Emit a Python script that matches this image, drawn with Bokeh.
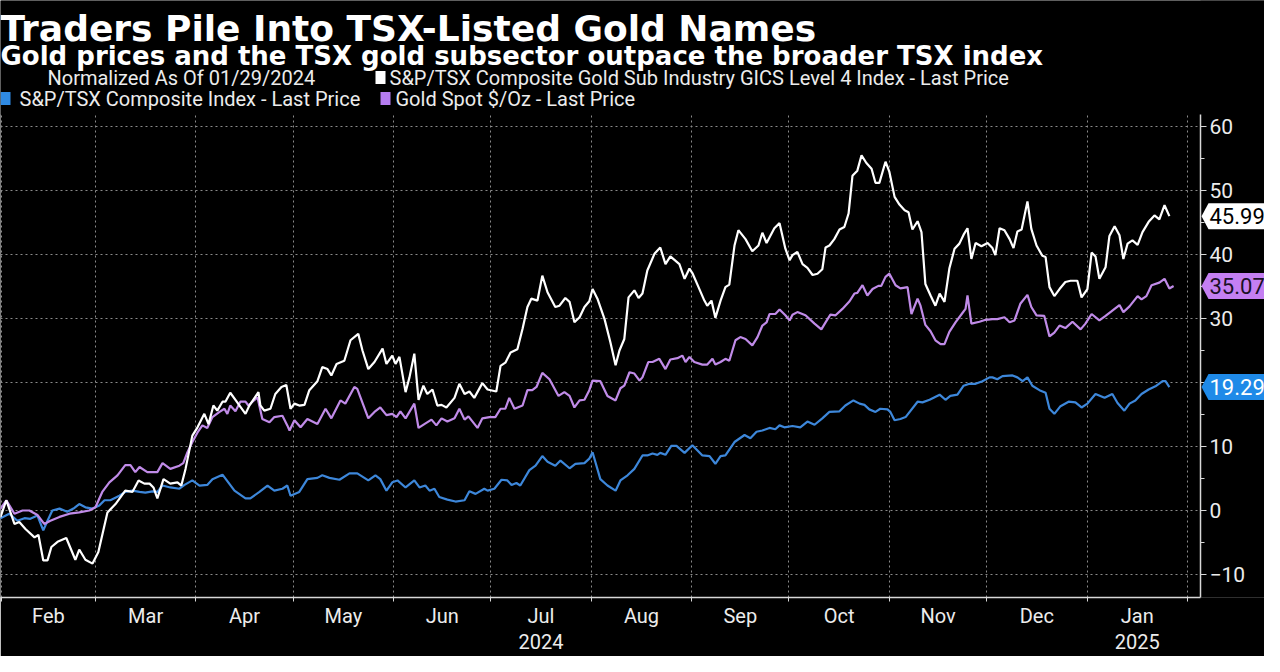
import pandas as pd
from bokeh.plotting import figure
from bokeh.models import (ColumnDataSource, Range1d, LinearAxis, FixedTicker, Grid,
                          Label, PolyAnnotation, BoxAnnotation)
from bokeh.embed import file_html
from bokeh.resources import INLINE

# ---------------- data (days since the normalization date, % change) ----------------
START_DATE = "2024-01-29"

gold_sub_days = [
    0, 2.7, 4.5, 7.0, 8.5, 10.4, 13.2, 14.4, 15.9, 17.2,
    18.4, 20.3, 23.0, 25.8, 27.0, 28.9, 31.1, 32.9, 35.7, 38.2,
    41.2, 43.4, 45.3, 47.1, 48.7, 49.9, 51.1, 53.0, 55.1, 57.3,
    58.5, 59.8, 61.9, 63.5, 65.6, 66.9, 68.4, 69.6, 71.2, 72.1,
    73.6, 75.2, 78.3, 79.5, 82.3, 82.9, 84.1, 86.0, 87.5, 89.4,
    90.9, 92.2, 93.4, 94.9, 96.5, 98.0, 100.5, 102.0, 103.6, 104.8,
    106.4, 108.8, 110.7, 113.1, 114.4, 116.2, 118.1, 120.6, 121.8, 123.6,
    124.6, 125.8, 127.7, 128.9, 130.4, 131.7, 133.2, 134.4, 136.0, 137.5,
    138.8, 140.3, 142.8, 144.3, 145.9, 147.4, 148.9, 151.4, 153.0, 155.7,
    157.0, 158.5, 160.1, 162.2, 163.8, 165.3, 166.5, 168.4, 169.9, 171.5,
    173.9, 175.2, 177.0, 178.3, 179.8, 181.4, 182.9, 184.4, 185.4, 186.9,
    189.1, 190.9, 192.5, 193.7, 195.2, 196.5, 198.3, 199.6, 200.8, 202.3,
    204.5, 206.3, 207.9, 209.4, 212.2, 213.8, 215.3, 216.2, 218.1, 219.9,
    220.8, 222.1, 223.3, 224.9, 226.4, 227.6, 229.2, 230.4, 232.6, 234.7,
    236.6, 237.8, 239.1, 241.5, 243.1, 244.9, 246.2, 247.1, 248.6, 250.2,
    251.7, 253.3, 254.8, 256.3, 257.3, 258.5, 260.0, 261.6, 263.1, 264.4,
    265.6, 267.1, 268.4, 269.9, 271.5, 272.7, 273.9, 275.8, 277.0, 278.6,
    280.1, 281.7, 282.9, 284.1, 285.7, 286.9, 288.1, 289.7, 291.2, 292.5,
    294.0, 295.5, 297.1, 298.6, 299.9, 301.1, 302.3, 303.6, 305.4, 307.3,
    308.8, 309.7, 311.0, 312.5, 314.1, 315.3, 316.5, 317.8, 319.6, 320.8,
    322.4, 324.2, 325.2, 326.4, 327.9, 329.5, 331.3, 332.9, 335.0, 336.3,
    338.1, 339.4, 340.6, 341.8, 343.7, 344.9, 346.5, 348.0, 349.2, 350.5,
    352.0, 353.6, 355.1, 357.0, 358.8, 360.3, 361.9, 363.4,
]
gold_sub_vals = [
    0, -1.0, 1.6, -2.1, -1.8, -2.9, -4.2, -3.8, -7.8, -7.8,
    -5.7, -4.9, -4.3, -7.7, -6.1, -7.7, -8.3, -6.5, -0.3, 1.0,
    3.1, 2.9, 4.7, 4.2, 4.2, 3.6, 1.9, 4.9, 4.2, 4.4,
    3.9, 6.5, 11.7, 13.0, 15.1, 13.5, 16.4, 15.6, 17.0, 17.0,
    18.4, 17.3, 15.1, 16.4, 18.5, 16.4, 15.6, 15.9, 18.2, 19.3,
    19.6, 15.9, 16.7, 16.4, 16.5, 18.8, 20.2, 22.4, 22.1, 21.1,
    22.9, 23.4, 26.6, 27.6, 25.0, 22.1, 23.2, 25.3, 22.9, 24.2,
    22.9, 24.0, 18.5, 20.8, 24.5, 17.3, 19.5, 18.2, 18.9, 16.4,
    16.5, 16.1, 17.6, 19.8, 18.2, 18.6, 17.6, 19.9, 18.9, 18.6,
    22.6, 23.1, 24.7, 25.2, 28.4, 31.8, 33.1, 32.8, 36.7, 34.1,
    31.8, 32.0, 33.2, 32.6, 29.4, 30.2, 31.8, 32.7, 34.6, 33.1,
    29.9, 26.3, 22.7, 25.0, 26.8, 33.3, 34.4, 33.2, 33.9, 37.5,
    40.1, 41.1, 38.5, 39.7, 38.5, 36.2, 37.8, 37.1, 34.9, 32.8,
    32.0, 32.8, 30.1, 32.8, 34.9, 35.3, 41.4, 43.8, 42.4, 40.5,
    41.4, 43.4, 41.8, 44.1, 44.9, 40.9, 39.1, 39.9, 40.4, 38.5,
    37.9, 36.8, 37.0, 37.7, 41.1, 41.4, 42.4, 43.9, 44.3, 46.4,
    52.3, 53.1, 55.5, 54.3, 53.4, 51.2, 51.2, 54.5, 52.9, 49.0,
    47.8, 46.9, 46.6, 43.9, 45.2, 43.5, 35.4, 33.6, 32.0, 33.9,
    32.6, 37.8, 40.9, 41.7, 43.1, 44.1, 39.3, 41.8, 41.3, 41.8,
    41.0, 39.9, 44.1, 43.8, 42.4, 41.0, 43.6, 43.9, 48.3, 44.0,
    41.4, 39.8, 39.6, 34.9, 33.5, 34.6, 35.7, 35.9, 35.9, 33.3,
    34.6, 40.3, 39.7, 36.2, 38.0, 42.9, 44.4, 43.0, 39.3, 41.7,
    42.2, 41.5, 43.5, 45.1, 46.1, 45.5, 47.7, 45.99,
]

gold_spot_days = [
    0, 2.7, 4.5, 7.0, 9.5, 11.6, 14.1, 16.2, 18.1, 20.9,
    24.0, 27.0, 30.1, 32.0, 34.1, 36.3, 38.8, 41.2, 42.8, 44.3,
    45.6, 48.0, 51.1, 52.7, 55.1, 57.9, 59.1, 60.4, 61.9, 63.5,
    65.0, 66.5, 68.1, 70.3, 71.8, 72.7, 73.6, 75.2, 76.7, 78.3,
    79.2, 82.0, 83.5, 85.7, 87.2, 89.7, 91.2, 91.9, 93.4, 95.3,
    97.4, 100.5, 103.0, 104.8, 107.6, 109.1, 111.9, 112.8, 116.2, 118.1,
    119.9, 121.8, 123.6, 124.9, 126.1, 127.7, 130.4, 131.7, 133.5, 135.7,
    137.2, 138.8, 140.6, 142.8, 144.3, 145.9, 147.1, 149.9, 151.4, 153.6,
    155.4, 157.0, 158.5, 159.7, 161.3, 163.8, 165.3, 166.8, 168.1, 169.9,
    172.1, 174.9, 176.7, 178.3, 179.8, 181.4, 182.9, 184.4, 185.4, 187.8,
    190.0, 192.5, 194.0, 195.2, 196.8, 198.3, 199.9, 200.8, 202.6, 203.9,
    206.0, 207.9, 209.4, 211.6, 213.1, 214.1, 215.3, 216.8, 219.3, 220.8,
    222.4, 223.3, 224.9, 226.4, 227.6, 229.5, 231.0, 232.6, 234.7, 236.3,
    237.8, 239.1, 240.0, 241.8, 243.1, 244.9, 246.2, 247.1, 248.6, 251.1,
    253.9, 256.0, 257.3, 258.8, 260.4, 262.5, 264.7, 266.2, 267.1, 268.7,
    270.2, 271.8, 273.6, 274.5, 275.8, 277.0, 278.9, 280.4, 282.6, 283.8,
    285.7, 286.6, 288.1, 289.7, 291.2, 292.8, 294.0, 295.5, 297.4, 299.6,
    300.5, 301.1, 302.3, 304.8, 306.7, 308.8, 310.3, 312.5, 314.1, 315.6,
    317.4, 319.6, 320.8, 322.4, 324.8, 326.4, 327.9, 329.5, 331.3, 333.5,
    336.0, 337.5, 339.4, 341.8, 343.7, 345.5, 348.0, 349.2, 351.1, 353.6,
    354.8, 356.3, 357.9, 360.3, 361.9, 363.4, 364.7,
]
gold_spot_vals = [
    0, 0.3, 1.6, -0.5, 0, 0, -0.7, -2.1, -1.6, -1.0,
    -0.5, -0.3, 0, 0.5, 2.9, 4.4, 5.5, 7.1, 7.1, 6.0,
    6.8, 6.0, 6.0, 7.4, 6.5, 7.0, 7.4, 9.1, 10.7, 12.2,
    13.3, 12.9, 14.6, 15.4, 15.9, 15.1, 16.4, 15.5, 17.0, 17.0,
    16.4, 17.7, 14.3, 13.8, 14.6, 14.8, 13.3, 12.5, 14.1, 13.0,
    14.3, 13.5, 15.9, 14.4, 17.2, 16.7, 19.3, 19.0, 14.4, 15.4,
    16.1, 14.9, 15.1, 14.6, 15.5, 14.4, 16.7, 12.9, 13.5, 14.2,
    13.3, 14.4, 13.9, 14.4, 15.9, 14.2, 14.7, 12.9, 14.4, 14.6,
    14.6, 15.9, 15.9, 17.6, 15.9, 16.4, 18.8, 18.8, 19.3, 21.5,
    20.5, 17.9, 18.5, 17.9, 16.1, 17.2, 17.3, 18.8, 20.3, 20.2,
    17.9, 17.2, 19.1, 19.5, 21.6, 21.4, 20.3, 20.8, 23.2, 23.2,
    23.7, 22.1, 23.6, 23.8, 24.2, 23.2, 24.0, 23.2, 22.8, 22.8,
    23.7, 22.8, 23.2, 23.7, 23.4, 26.6, 27.1, 26.8, 25.8, 27.1,
    28.9, 29.4, 30.7, 30.7, 31.4, 30.5, 29.7, 30.6, 31.0, 30.5,
    29.2, 28.3, 29.4, 30.6, 30.5, 31.5, 32.7, 33.9, 34.0, 35.2,
    33.6, 34.6, 35.1, 35.1, 36.5, 37.0, 35.2, 34.7, 34.9, 30.7,
    33.1, 32.0, 29.0, 28.0, 26.6, 26.0, 26.0, 27.9, 29.4, 30.9,
    31.5, 33.6, 29.2, 29.5, 29.8, 29.9, 29.9, 30.2, 29.4, 29.7,
    32.3, 33.7, 31.8, 30.5, 30.4, 27.2, 27.8, 28.9, 28.5, 29.5,
    28.3, 29.2, 30.7, 29.7, 30.4, 31.1, 32.1, 31.0, 31.9, 33.5,
    33.0, 33.5, 35.2, 35.6, 36.2, 34.7, 35.07,
]

tsx_days = [
    0, 2.7, 5.4, 7.9, 10.1, 11.9, 14.1, 15.9, 17.2, 18.7,
    20.9, 23.3, 25.5, 27.0, 28.9, 31.1, 33.2, 34.8, 36.6, 39.4,
    41.2, 43.4, 45.6, 47.4, 49.6, 51.1, 52.7, 55.1, 57.9, 59.5,
    61.9, 64.1, 66.5, 68.1, 71.2, 74.9, 78.3, 79.8, 82.6, 85.1,
    87.2, 89.7, 91.2, 92.2, 94.9, 97.4, 100.5, 102.0, 104.2, 107.3,
    110.4, 112.8, 116.2, 118.4, 119.9, 121.8, 123.6, 125.2, 127.7, 130.4,
    132.0, 133.8, 135.1, 136.6, 138.1, 140.6, 143.1, 145.9, 147.4, 149.3,
    152.0, 153.0, 155.1, 157.3, 159.1, 160.4, 161.9, 163.1, 165.9, 167.8,
    169.9, 171.5, 173.9, 175.5, 178.3, 180.1, 182.9, 184.4, 185.4, 187.8,
    190.0, 192.5, 194.0, 196.2, 198.3, 200.8, 202.3, 203.9, 205.4, 206.3,
    207.9, 209.7, 211.3, 213.8, 216.2, 219.3, 221.5, 223.3, 224.9, 226.4,
    229.2, 232.3, 234.1, 236.0, 237.8, 240.0, 241.8, 243.1, 244.6, 247.1,
    249.5, 251.7, 253.9, 256.3, 258.5, 261.6, 263.4, 265.9, 267.8, 269.3,
    270.8, 272.7, 274.2, 276.4, 277.3, 278.6, 280.4, 282.0, 285.7, 287.2,
    289.4, 292.5, 294.3, 295.8, 298.0, 299.9, 301.7, 303.6, 305.7, 307.9,
    308.8, 310.3, 311.9, 315.0, 316.5, 318.1, 319.6, 321.1, 323.3, 325.2,
    326.4, 327.9, 329.8, 332.3, 334.4, 336.3, 338.1, 340.6, 343.4, 345.8,
    347.4, 349.5, 351.1, 352.9, 354.8, 357.0, 359.1, 361.3, 362.2, 363.4,
]
tsx_vals = [
    0, -1.2, -0.5, -1.6, -1.2, -1.3, -0.8, -3.1, -1.6, 0,
    0.3, -0.2, 0.4, 1.0, 0.5, 0.3, 0.8, 1.6, 1.6, 2.3,
    2.9, 3.1, 2.9, 2.8, 3.0, 2.9, 3.9, 3.6, 3.4, 4.0,
    4.7, 3.9, 4.0, 4.9, 5.6, 3.1, 1.9, 1.9, 2.9, 3.9,
    3.1, 3.4, 3.9, 2.3, 2.9, 4.9, 5.1, 5.5, 5.1, 4.8,
    5.8, 5.8, 4.7, 5.5, 4.9, 3.1, 4.4, 4.7, 3.6, 4.7,
    3.6, 3.9, 3.1, 3.4, 2.1, 1.7, 1.4, 1.6, 3.0, 2.6,
    3.4, 3.1, 3.4, 4.8, 4.7, 4.0, 4.3, 3.9, 6.3, 7.0,
    8.5, 7.6, 7.0, 7.8, 6.6, 7.3, 7.4, 8.1, 9.1, 4.9,
    3.9, 3.1, 4.7, 5.5, 6.5, 8.6, 8.6, 8.9, 8.7, 9.0,
    8.7, 10.1, 10.1, 9.0, 10.2, 8.6, 8.5, 7.3, 8.5, 8.6,
    10.7, 11.8, 11.3, 12.3, 12.5, 12.9, 12.7, 13.3, 13.0, 13.2,
    13.0, 13.9, 13.4, 14.4, 15.4, 15.5, 16.4, 17.2, 16.7, 16.5,
    15.8, 15.4, 15.9, 15.8, 15.4, 14.1, 14.3, 14.6, 17.0, 16.9,
    17.3, 18.1, 17.3, 17.9, 18.1, 19.5, 19.8, 19.8, 20.2, 20.8,
    20.8, 20.5, 21.0, 21.1, 20.8, 20.2, 20.8, 19.5, 18.8, 18.4,
    15.9, 15.1, 16.3, 17.0, 16.9, 16.1, 16.7, 18.2, 17.6, 18.2,
    16.8, 15.6, 16.7, 17.2, 18.2, 18.9, 19.4, 20.2, 20.2, 19.29,
]

title_text = "Traders Pile Into TSX-Listed Gold Names"
subtitle_text = "Gold prices and the TSX gold subsector outpace the broader TSX index"
norm_text = "Normalized As Of 01/29/2024"
name_gold_sub = "S&P/TSX Composite Gold Sub Industry GICS Level 4 Index - Last Price"
name_tsx = "S&P/TSX Composite Index - Last Price"
name_gold_spot = "Gold Spot $/Oz - Last Price"
month_names = ["Feb", "Mar", "Apr", "May", "Jun", "Jul", "Aug", "Sep", "Oct", "Nov", "Dec", "Jan"]
year_names = {5: "2024", 11: "2025"}   # month index -> year written under it
y_ticks = [-10, 0, 10, 20, 30, 40, 50, 60]

# ---------------- styling ----------------
C_WHITE = "#ffffff"
C_BLUE = "#3d87da"
C_PURPLE = "#c08be8"
C_BLUE_KEY = "#2f8ae3"
C_PURPLE_KEY = "#b57cf0"
C_BLUE_TAG = "#1f8ae8"
C_PURPLE_TAG = "#c47ff2"
C_TEXT = "#ececec"
C_GRID = "#8a8a8a"
C_AXIS = "#d8d8d8"
FONT = "Roboto"

W, H = 1264, 656
B_BOTTOM = 59
FRAME_H = H - B_BOTTOM
PX_PER_DAY = 3.2406
PX_PER_UNIT = 6.4
AXIS_PX = 1200
ZERO_PAGE_Y = 518                                   # page y of the 0 line
Y_LO = (ZERO_PAGE_Y - (FRAME_H + 8)) / PX_PER_UNIT  # value at the frame bottom
Y_HI = 61.875                                       # top of the chart area proper
Y_TOP = Y_LO + FRAME_H / PX_PER_UNIT                # frame also holds the header

base = pd.Timestamp(START_DATE)


def to_dates(days):
    return (base + pd.to_timedelta(days, unit="D")).values


def ms(ts):
    return ts.value / 1e6


def vy(page_y):
    # data value that sits at a given page y
    return (ZERO_PAGE_Y - page_y) / PX_PER_UNIT


x_start = base + pd.Timedelta(days=2.7)
axis_date = x_start + pd.Timedelta(days=AXIS_PX / PX_PER_DAY)
x_end = x_start + pd.Timedelta(days=W / PX_PER_DAY)
MS_PER_PX = 86400000.0 / PX_PER_DAY

p = figure(width=W, height=H,
           x_range=Range1d(x_start, x_end),
           y_range=Range1d(Y_LO, Y_TOP),
           x_axis_type=None, y_axis_type=None, title=None,
           output_backend="svg", toolbar_location=None,
           min_border_left=0, min_border_right=0,
           min_border_top=0, min_border_bottom=B_BOTTOM,
           background_fill_color="#000000", border_fill_color="#000000",
           outline_line_color=None)

month_starts = pd.date_range("2024-02-01", periods=13, freq="MS")
start_ticks = [ms(t) for t in month_starts]
mid_ticks = [ms(a + (b - a) / 2) for a, b in zip(month_starts[:-1], month_starts[1:])]

# grids
p.add_layout(Grid(dimension=0, ticker=FixedTicker(ticks=start_ticks),
                  grid_line_color=C_GRID, grid_line_dash="2 3", grid_line_width=1))
p.add_layout(Grid(dimension=1, ticker=FixedTicker(ticks=y_ticks),
                  grid_line_color=C_GRID, grid_line_dash="2 3", grid_line_width=1))
# black masks: header area and strip right of the value axis
p.add_layout(BoxAnnotation(bottom=Y_HI, fill_color="#000000", fill_alpha=1.0,
                           line_color=None, level="underlay"))
p.add_layout(BoxAnnotation(left=ms(axis_date), fill_color="#000000", fill_alpha=1.0,
                           line_color=None, level="underlay"))

# lines
for days, vals, col in [(tsx_days, tsx_vals, C_BLUE),
                        (gold_spot_days, gold_spot_vals, C_PURPLE),
                        (gold_sub_days, gold_sub_vals, C_WHITE)]:
    n = min(len(days), len(vals))
    src = ColumnDataSource(dict(x=to_dates(days[:n]), y=vals[:n]))
    p.line(x="x", y="y", source=src, line_color=col, line_width=2.2)

# month axis, with the year written under Jul and Jan
month_labels = [m + ("\n" + year_names[i] if i in year_names else "")
                for i, m in enumerate(month_names)]
xaxis = LinearAxis(ticker=FixedTicker(ticks=mid_ticks, minor_ticks=start_ticks),
                   bounds=(ms(x_start), ms(axis_date)),
                   major_label_overrides={t: m for t, m in zip(mid_ticks, month_labels)},
                   axis_line_color=C_AXIS, axis_line_width=1.5,
                   major_tick_line_color=None, major_tick_out=0, major_tick_in=0,
                   minor_tick_line_color=C_AXIS, minor_tick_out=4, minor_tick_in=0,
                   major_label_standoff=2,
                   major_label_text_font=FONT, major_label_text_font_size="20px",
                   major_label_text_color=C_TEXT, major_label_text_line_height=1.1)
p.add_layout(xaxis, "below")

# year separator (a lone tick at 1 Jan 2025, pinned below the frame)
sep_axis = LinearAxis(ticker=FixedTicker(ticks=[start_ticks[11]], minor_ticks=[]),
                      fixed_location=Y_LO - 27 / PX_PER_UNIT,
                      major_label_overrides={start_ticks[11]: ""},
                      axis_line_color=None,
                      major_tick_line_color="#aaaaaa", major_tick_out=22, major_tick_in=0,
                      minor_tick_line_color=None, major_label_text_font_size="1px")
p.add_layout(sep_axis, "below")

# value axis, pinned inside the (full-width) frame
yaxis = LinearAxis(ticker=FixedTicker(ticks=y_ticks, minor_ticks=[t + 5 for t in y_ticks[:-1]]),
                   fixed_location=ms(axis_date), bounds=(Y_LO, Y_HI),
                   axis_line_color=C_AXIS, axis_line_width=1.5,
                   major_tick_line_color=C_AXIS, major_tick_out=6, major_tick_in=0,
                   minor_tick_line_color=C_AXIS, minor_tick_out=4, minor_tick_in=0,
                   major_label_standoff=3,
                   major_label_text_font=FONT, major_label_text_font_size="21px",
                   major_label_text_color=C_TEXT)
p.add_layout(yaxis, "right")

# last-value tags
ax = ms(axis_date)
for v, fill, tcol in [(gold_sub_vals[-1], C_WHITE, "#000000"),
                      (gold_spot_vals[-1], C_PURPLE_TAG, "#1a1026"),
                      (tsx_vals[-1], C_BLUE_TAG, "#ffffff")]:
    h = 13 / PX_PER_UNIT
    p.add_layout(PolyAnnotation(xs=[ax + 1 * MS_PER_PX, ax + 8 * MS_PER_PX, ms(x_end),
                                    ms(x_end), ax + 8 * MS_PER_PX],
                                ys=[v, v + h, v + h, v - h, v - h],
                                fill_color=fill, fill_alpha=1.0, line_color=None))
    p.add_layout(Label(x=ax + 9 * MS_PER_PX, y=v, text=f"{v:.2f}",
                       text_baseline="middle", text_align="left",
                       text_font=FONT, text_font_size="22px", text_color=tcol))

# header: title, subtitle, legend
p.add_layout(Label(x=0, y=vy(36), x_units="screen", y_units="data", text=title_text,
                   text_font="DejaVu Sans", text_font_style="bold", text_font_size="36px",
                   text_color="#ffffff", text_baseline="alphabetic"))
p.add_layout(Label(x=0, y=vy(63), x_units="screen", y_units="data", text=subtitle_text,
                   text_font="DejaVu Sans", text_font_style="bold", text_font_size="26px",
                   text_color="#ffffff", text_baseline="alphabetic"))


def key_square(x0, page_y_center, color):
    y0 = vy(page_y_center + 6.5)
    y1 = vy(page_y_center - 6.5)
    p.add_layout(PolyAnnotation(xs=[x0, x0 + 10, x0 + 10, x0], ys=[y0, y0, y1, y1],
                                xs_units="screen", ys_units="data",
                                fill_color=color, fill_alpha=1.0, line_color=None))


def key_text(x, page_y_center, text):
    p.add_layout(Label(x=x, y=vy(page_y_center), x_units="screen", y_units="data",
                       text=text, text_font=FONT, text_font_size="20px",
                       text_color=C_TEXT, text_baseline="middle"))


key_text(47, 85, norm_text)
key_square(375, 85, C_WHITE)
key_text(389, 85, name_gold_sub)
key_square(0, 106, C_BLUE_KEY)
key_text(19, 106, name_tsx)
key_square(380, 106, C_PURPLE_KEY)
key_text(395, 106, name_gold_spot)

open("out.html", "w").write(file_html(p, INLINE))
